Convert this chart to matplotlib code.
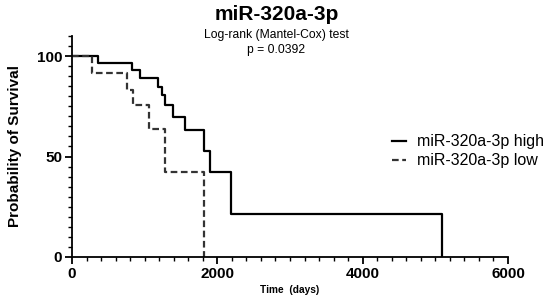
import matplotlib.pyplot as plt
from matplotlib.ticker import MultipleLocator

plt.rc('font', family='Liberation Sans')

# Kaplan-Meier step data (days, survival %)
high_days = [0, 362, 821, 935, 1188, 1234, 1280, 1394, 1555, 1821, 1899, 2188, 5087]
high_surv = [100, 96.5, 92.9, 89.0, 84.5, 80.4, 75.7, 69.5, 63.2, 52.9, 42.1, 21.3, 0]
low_days = [0, 271, 752, 843, 1059, 1280, 1821]
low_surv = [100, 91.7, 83.3, 75.5, 63.5, 42.2, 0]

fig = plt.figure(figsize=(5.47, 2.99), dpi=100)
ax = fig.add_axes([0.1316, 0.1405, 0.7971, 0.7391])

ax.step(high_days, high_surv, where='post', color='k', lw=1.6,
        label='miR-320a-3p high')
ax.step(low_days, low_surv, where='post', color='#333333', lw=1.6,
        linestyle=(0, (3, 1.6)), label='miR-320a-3p low')

ax.set_xlim(0, 6000)
ax.set_ylim(0, 110)
ax.set_xticks([0, 2000, 4000, 6000])
ax.set_yticks([0, 50, 100])
ax.xaxis.set_minor_locator(MultipleLocator(200))
ax.yaxis.set_minor_locator(MultipleLocator(5))
for s in ['top', 'right']:
    ax.spines[s].set_visible(False)
for s in ['left', 'bottom']:
    ax.spines[s].set_linewidth(1.3)
ax.tick_params(which='major', length=5, width=1.3, labelsize=11, pad=2)
ax.tick_params(which='minor', length=3, width=1.0)
for lbl in ax.get_xticklabels() + ax.get_yticklabels():
    lbl.set_fontweight('bold')

ax.set_xlabel('Time  (days)', fontsize=7.3, fontweight='bold')
ax.xaxis.set_label_coords(0.5, -0.125)
ax.set_ylabel('Probability of Survival', fontsize=11, fontweight='bold')
ax.yaxis.set_label_coords(-0.115, 0.5)

fig.text(0.506, 0.952, 'miR-320a-3p', ha='center', va='center',
         fontsize=15, fontweight='bold')
fig.text(0.505, 0.884, 'Log-rank (Mantel-Cox) test', ha='center', va='center',
         fontsize=8.7)
fig.text(0.505, 0.833, 'p = 0.0392', ha='center', va='center', fontsize=8.7)

ax.legend(loc='center left', bbox_to_anchor=(0.70, 0.478), frameon=False,
          fontsize=11.5, handlelength=0.9, handletextpad=0.7, labelspacing=0.25)

plt.savefig('out.png', dpi=100)
